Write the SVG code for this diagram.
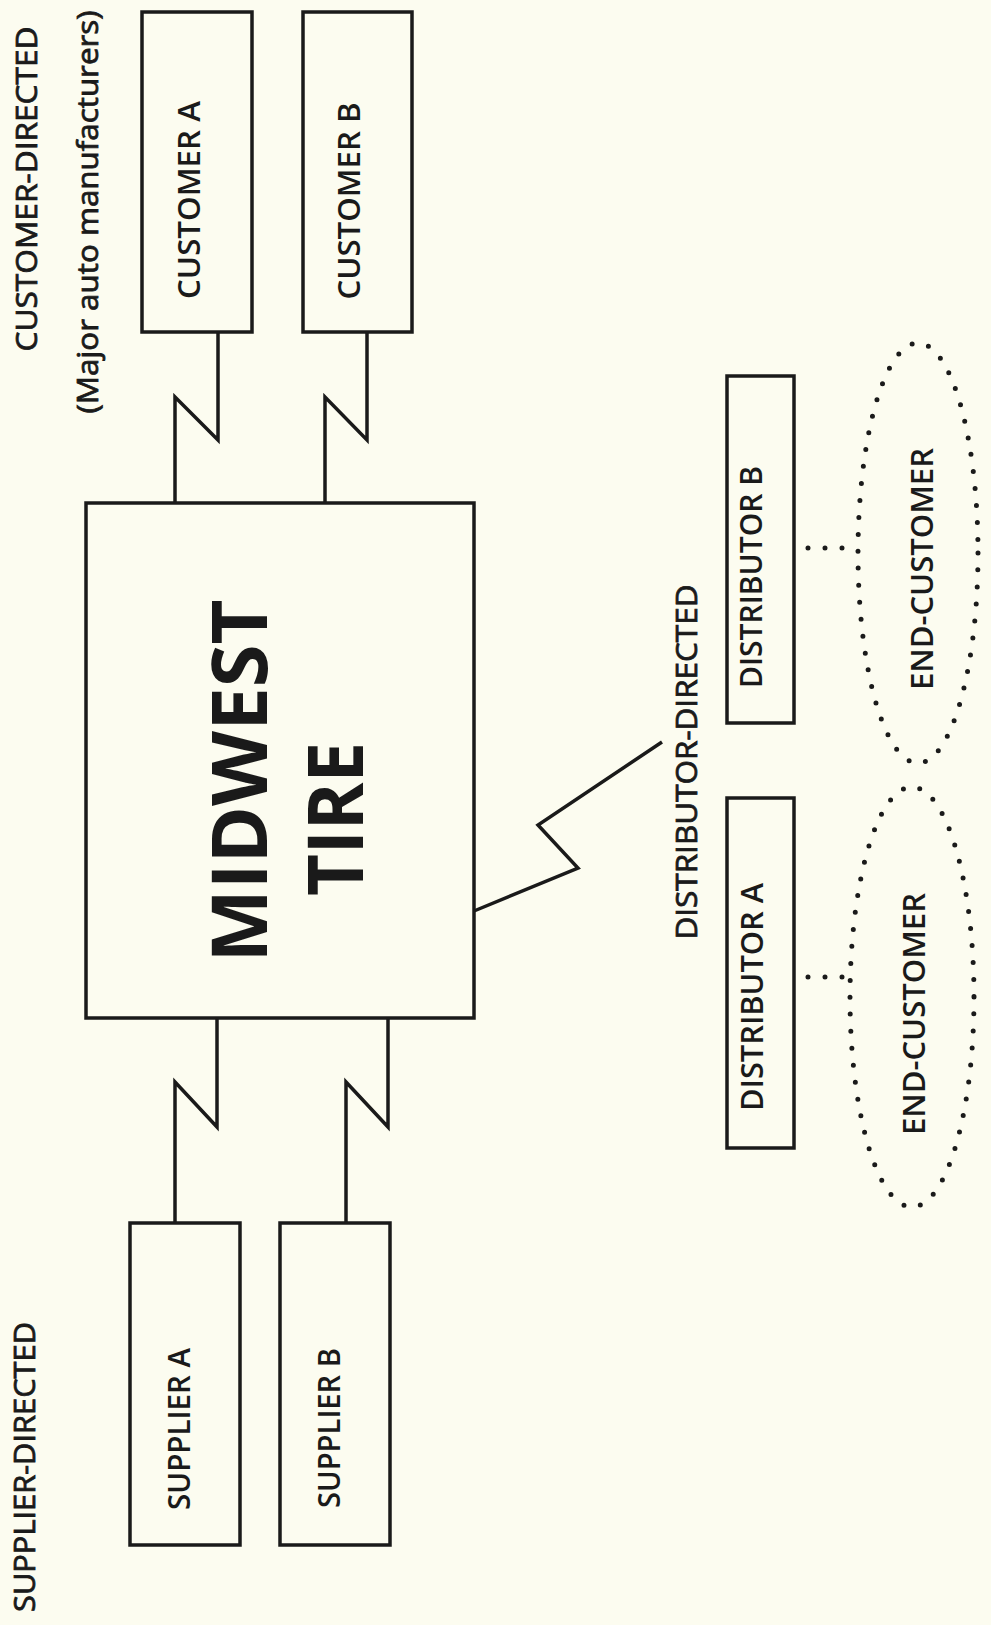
<svg xmlns="http://www.w3.org/2000/svg" width="991" height="1625" viewBox="0 0 991 1625">
<style>
.box{fill:none;stroke:#1a1a1a;stroke-width:3.5}
.ln{fill:none;stroke:#1a1a1a;stroke-width:3.5;stroke-linejoin:miter}
.dot{fill:none;stroke:#1a1a1a;stroke-width:5;stroke-linecap:round;stroke-dasharray:0 17}
text{font-family:"Open Sans","Liberation Sans",sans-serif;fill:#1a1a1a;text-anchor:middle}
.hd{font-size:30px;font-weight:400;stroke:#1a1a1a;stroke-width:0.8}
.lb{font-size:30px;font-weight:600}
.big{font-size:77px;font-weight:700}
</style>
<rect x="0" y="0" width="991" height="1625" fill="#fcfcf0"/>
<g id="connectors">
<polyline class="ln" points="218,332 218,440 175,397 175,503"/>
<polyline class="ln" points="367,332 367,440 325,397 325,503"/>
<polyline class="ln" points="217,1018 217,1127 175,1082 175,1222"/>
<polyline class="ln" points="388,1018 388,1127 346,1082 346,1222"/>
<polyline class="ln" points="474,911 578,868 538,825 662,742"/>
<line class="dot" x1="808" y1="548" x2="856" y2="548"/>
<line class="dot" x1="808" y1="977" x2="850" y2="977"/>
</g>
<g id="label-customer-directed">
<text class="hd" transform="translate(37,189) rotate(-90)" textLength="325" lengthAdjust="spacingAndGlyphs">CUSTOMER-DIRECTED</text>
<text class="hd" transform="translate(98,212) rotate(-90)" textLength="403" lengthAdjust="spacingAndGlyphs">(Major auto manufacturers)</text>
</g>
<g id="customer-a">
<rect class="box" x="142" y="12" width="110" height="320"/>
<text class="lb" transform="translate(200,200) rotate(-90)" textLength="198" lengthAdjust="spacingAndGlyphs">CUSTOMER A</text>
</g>
<g id="customer-b">
<rect class="box" x="303" y="12" width="109" height="320"/>
<text class="lb" transform="translate(360,201) rotate(-90)" textLength="197" lengthAdjust="spacingAndGlyphs">CUSTOMER B</text>
</g>
<g id="midwest-tire">
<rect class="box" x="86" y="503" width="388" height="515"/>
<text class="big" transform="translate(267,781) rotate(-90)" textLength="363" lengthAdjust="spacingAndGlyphs">MIDWEST</text>
<text class="big" transform="translate(363,819) rotate(-90)" textLength="154" lengthAdjust="spacingAndGlyphs">TIRE</text>
</g>
<g id="supplier-a">
<rect class="box" x="130" y="1223" width="110" height="322"/>
<text class="lb" transform="translate(190,1429) rotate(-90)" textLength="162" lengthAdjust="spacingAndGlyphs">SUPPLIER A</text>
</g>
<g id="supplier-b">
<rect class="box" x="280" y="1223" width="110" height="322"/>
<text class="lb" transform="translate(340,1428) rotate(-90)" textLength="160" lengthAdjust="spacingAndGlyphs">SUPPLIER B</text>
</g>
<g id="label-supplier-directed">
<text class="hd" transform="translate(35,1467) rotate(-90)" textLength="290" lengthAdjust="spacingAndGlyphs">SUPPLIER-DIRECTED</text>
</g>
<g id="label-distributor-directed">
<text class="hd" transform="translate(697,762) rotate(-90)" textLength="355" lengthAdjust="spacingAndGlyphs">DISTRIBUTOR-DIRECTED</text>
</g>
<g id="distributor-b">
<rect class="box" x="727" y="376" width="67" height="347"/>
<text class="lb" transform="translate(762,577) rotate(-90)" textLength="222" lengthAdjust="spacingAndGlyphs">DISTRIBUTOR B</text>
</g>
<g id="distributor-a">
<rect class="box" x="727" y="798" width="67" height="350"/>
<text class="lb" transform="translate(763,997) rotate(-90)" textLength="228" lengthAdjust="spacingAndGlyphs">DISTRIBUTOR A</text>
</g>
<g id="end-customer-b">
<ellipse class="dot" cx="918" cy="553" rx="60" ry="210"/>
<text class="lb" transform="translate(933,569) rotate(-90)" textLength="242" lengthAdjust="spacingAndGlyphs">END-CUSTOMER</text>
</g>
<g id="end-customer-a">
<ellipse class="dot" cx="912" cy="997" rx="62" ry="210"/>
<text class="lb" transform="translate(925,1014) rotate(-90)" textLength="242" lengthAdjust="spacingAndGlyphs">END-CUSTOMER</text>
</g>
</svg>
